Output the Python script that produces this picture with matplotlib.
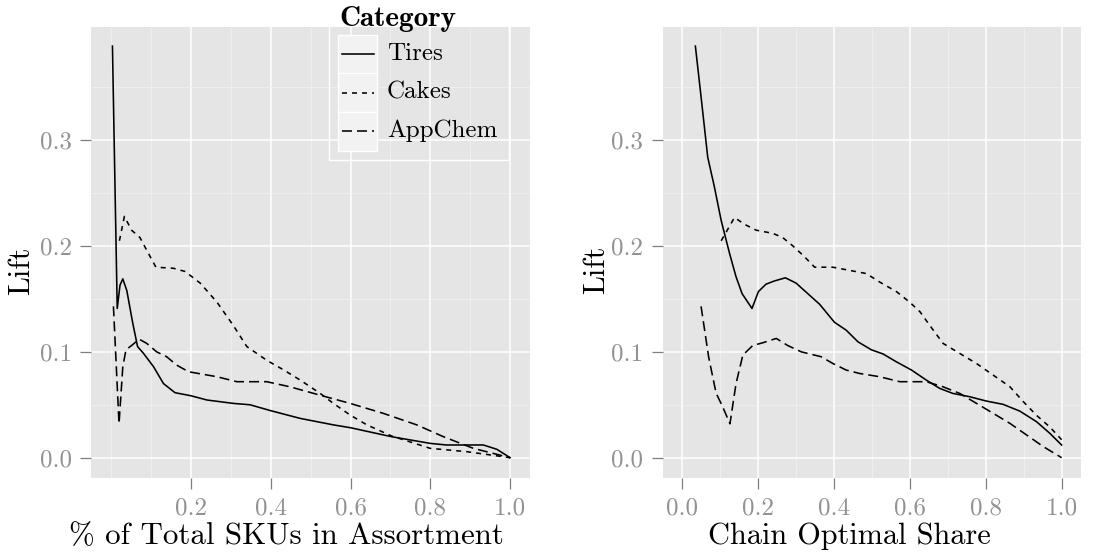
import matplotlib
matplotlib.use("Agg")
import matplotlib.pyplot as plt
from matplotlib.lines import Line2D
from matplotlib.patches import Rectangle
from matplotlib.ticker import FixedLocator

plt.rcParams['font.family'] = ['cmr10', 'DejaVu Sans']
plt.rcParams['axes.formatter.use_mathtext'] = True
plt.rcParams['lines.scale_dashes'] = False

categories = ["Tires", "Cakes", "AppChem"]

# ---- Left panel: % of Total SKUs in Assortment ----
tires_sku_x = [0.003, 0.015, 0.022, 0.029, 0.039, 0.054, 0.066, 0.081, 0.106, 0.131, 0.16,
               0.2, 0.24, 0.306, 0.348, 0.4, 0.474, 0.557, 0.6, 0.703, 0.8, 0.84, 0.933, 0.967, 1.0]
tires_sku_y = [0.389, 0.141, 0.163, 0.169, 0.158, 0.127, 0.105, 0.0985, 0.086, 0.070, 0.0614,
               0.0585, 0.0545, 0.0513, 0.050, 0.0444, 0.0371, 0.031, 0.0283, 0.0198, 0.0135, 0.012, 0.012, 0.0079, 0.0]

cakes_sku_x = [0.0205, 0.033, 0.051, 0.072, 0.089, 0.112, 0.156, 0.185, 0.223, 0.265, 0.306, 0.34,
               0.39, 0.432, 0.474, 0.524, 0.557, 0.599, 0.641, 0.703, 0.8, 0.891, 1.0]
cakes_sku_y = [0.205, 0.228, 0.215, 0.208, 0.196, 0.180, 0.179, 0.176, 0.165, 0.147, 0.125, 0.105,
               0.092, 0.083, 0.0733, 0.0607, 0.0513, 0.0403, 0.031, 0.0205, 0.0088, 0.0057, 0.0]

appchem_sku_x = [0.0055, 0.0195, 0.029, 0.037, 0.051, 0.07, 0.089, 0.114, 0.139, 0.164, 0.194,
                 0.265, 0.315, 0.39, 0.448, 0.524, 0.599, 0.682, 0.766, 0.833, 0.908, 1.0]
appchem_sku_y = [0.143, 0.032, 0.086, 0.102, 0.106, 0.112, 0.108, 0.100, 0.0954, 0.0875, 0.0812,
                 0.0765, 0.0718, 0.0718, 0.067, 0.059, 0.0513, 0.0419, 0.031, 0.0198, 0.0088, 0.0]

# ---- Right panel: Chain Optimal Share ----
tires_share_x = [0.036, 0.051, 0.0685, 0.086, 0.104, 0.126, 0.143, 0.159, 0.185, 0.202, 0.222,
                 0.244, 0.273, 0.301, 0.332, 0.363, 0.402, 0.433, 0.464, 0.499, 0.53, 0.565, 0.605,
                 0.644, 0.679, 0.714, 0.758, 0.802, 0.846, 0.89, 0.934, 0.969, 1.0]
tires_share_y = [0.389, 0.341, 0.284, 0.256, 0.224, 0.193, 0.171, 0.155, 0.141, 0.157, 0.164,
                 0.167, 0.170, 0.165, 0.155, 0.145, 0.128, 0.1205, 0.1095, 0.102, 0.098, 0.0906, 0.0828,
                 0.0733, 0.0655, 0.0607, 0.0576, 0.0535, 0.0504, 0.044, 0.034, 0.023, 0.012]

cakes_share_x = [0.104, 0.139, 0.165, 0.196, 0.24, 0.266, 0.293, 0.323, 0.35, 0.398, 0.442, 0.486,
                 0.521, 0.565, 0.6, 0.627, 0.653, 0.688, 0.732, 0.776, 0.82, 0.864, 0.899, 0.934, 0.969, 1.0]
cakes_share_y = [0.205, 0.227, 0.2206, 0.215, 0.212, 0.208, 0.200, 0.190, 0.180, 0.180, 0.177, 0.174,
                 0.166, 0.157, 0.147, 0.138, 0.125, 0.108, 0.0985, 0.089, 0.078, 0.067, 0.053, 0.040, 0.029, 0.017]

appchem_share_x = [0.051, 0.071, 0.0905, 0.108, 0.127, 0.143, 0.161, 0.187, 0.2135, 0.249, 0.279,
                   0.315, 0.367, 0.398, 0.433, 0.468, 0.521, 0.574, 0.644, 0.688, 0.732, 0.776, 0.82,
                   0.864, 0.908, 0.952, 1.0]
appchem_share_y = [0.143, 0.095, 0.061, 0.048, 0.032, 0.070, 0.097, 0.106, 0.1086, 0.1127, 0.106,
                   0.100, 0.0954, 0.089, 0.0828, 0.0796, 0.0765, 0.0718, 0.0718, 0.067, 0.0607, 0.0513, 0.0419,
                   0.0324, 0.0214, 0.0104, 0.0]

y_ticks = [0.0, 0.1, 0.2, 0.3]
y_tick_labels = ["0.0", "0.1", "0.2", "0.3"]
left_x_ticks = [0.2, 0.4, 0.6, 0.8, 1.0]
left_x_tick_labels = ["0.2", "0.4", "0.6", "0.8", "1.0"]
right_x_ticks = [0.0, 0.2, 0.4, 0.6, 0.8, 1.0]
right_x_tick_labels = ["0.0", "0.2", "0.4", "0.6", "0.8", "1.0"]
left_x_minor = [0.0, 0.1, 0.3, 0.5, 0.7, 0.9]
right_x_minor = [0.1, 0.3, 0.5, 0.7, 0.9]
y_minor = [0.05, 0.15, 0.25, 0.35]

xlabel_left = "% of Total SKUs in Assortment"
xlabel_right = "Chain Optimal Share"
ylabel = "Lift"
legend_title = "Category"

styles = {
    "Tires": dict(linestyle="-"),
    "Cakes": dict(linestyle=(0, (3.6, 3.6))),
    "AppChem": dict(linestyle=(0, (7.2, 3.6))),
}
LW = 1.15

W, H = 1109, 552
fig = plt.figure(figsize=(W / 100, H / 100), dpi=100)


def fx(px):
    return px / W


def fy(py):
    return 1 - py / H


ax1 = fig.add_axes([fx(91.3), fy(478.2), fx(530) - fx(91.3), fy(26.6) - fy(478.2)])
ax2 = fig.add_axes([fx(662.7), fy(478.2), fx(1080.6) - fx(662.7), fy(26.6) - fy(478.2)])


def style_axes(ax, xt, xtl, xminor):
    ax.set_facecolor("#E5E5E5")
    for s in ax.spines.values():
        s.set_visible(False)
    ax.set_xlim(-0.05, 1.05)
    ax.set_ylim(-0.0194, 0.4074)
    ax.set_xticks(xt)
    ax.set_xticklabels(xtl)
    ax.set_yticks(y_ticks)
    ax.set_yticklabels(y_tick_labels)
    ax.xaxis.set_minor_locator(FixedLocator(xminor))
    ax.yaxis.set_minor_locator(FixedLocator(y_minor))
    ax.tick_params(which="minor", length=0)
    ax.tick_params(which="major", length=8, width=0.9, color="#7F7F7F",
                   labelcolor="#929292", labelsize=18, pad=6)
    ax.grid(which="major", color="white", linewidth=1.1)
    ax.grid(which="minor", color="#F2F2F2", linewidth=0.55)
    ax.set_axisbelow(True)


style_axes(ax1, left_x_ticks, left_x_tick_labels, left_x_minor)
style_axes(ax2, right_x_ticks, right_x_tick_labels, right_x_minor)

# axis titles (placed as in the reference)
fig.text(fx(286), fy(544), xlabel_left, fontsize=22.3, ha="center", va="baseline")
fig.text(fx(849), fy(544), xlabel_right, fontsize=21.8, ha="center", va="baseline")
fig.text(fx(21.7), fy(271), ylabel, fontsize=21.8, ha="center", va="center", rotation=90)
fig.text(fx(596), fy(270), ylabel, fontsize=21.8, ha="center", va="center", rotation=90)

left_data = {
    "Tires": (tires_sku_x, tires_sku_y),
    "Cakes": (cakes_sku_x, cakes_sku_y),
    "AppChem": (appchem_sku_x, appchem_sku_y),
}
right_data = {
    "Tires": (tires_share_x, tires_share_y),
    "Cakes": (cakes_share_x, cakes_share_y),
    "AppChem": (appchem_share_x, appchem_share_y),
}

for cat in categories:
    x, y = left_data[cat]
    ax1.plot(x, y, color="black", linewidth=LW, **styles[cat])
    x, y = right_data[cat]
    ax2.plot(x, y, color="black", linewidth=LW, **styles[cat])

# ---- Legend (ggplot style, drawn inside the left panel) ----
fig.add_artist(Rectangle((fx(328.5), fy(160)), fx(509) - fx(328.5), fy(25) - fy(160),
                         transform=fig.transFigure, facecolor="none", edgecolor="white",
                         linewidth=1.0, zorder=5))
fig.text(fx(339), fy(25.5), legend_title, fontsize=21, fontweight="bold",
         family=["cmb10", "DejaVu Sans"], va="baseline", ha="left", zorder=6)
row_tops = [35, 73.5, 112]
row_h = 38.5
for cat, top in zip(categories, row_tops):
    fig.add_artist(Rectangle((fx(338), fy(top + row_h)), fx(377) - fx(338), fy(top) - fy(top + row_h),
                             transform=fig.transFigure, facecolor="#F2F2F2", edgecolor="white",
                             linewidth=1.0, zorder=5))
    yc = fy(top + row_h / 2)
    fig.add_artist(Line2D([fx(342), fx(374)], [yc, yc], transform=fig.transFigure,
                          color="black", linewidth=LW, zorder=6, **styles[cat]))
    fig.text(fx(387), yc, cat, fontsize=18, va="center", ha="left", zorder=6)

fig.savefig("out.png", dpi=100)
